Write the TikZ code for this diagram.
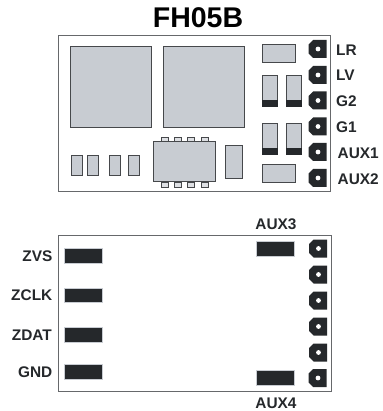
\documentclass[tikz,border=0pt]{standalone}
\usepackage{fontspec}
\setmainfont{Liberation Sans}
\definecolor{part}{HTML}{C8CCD2}
\definecolor{ink}{HTML}{25282B}
\tikzset{
  board/.style = {draw=ink!70!white, fill=white, line width=0.9pt},
  part/.style = {draw=ink!85!white, fill=part, line width=1pt},
  pin/.style = {draw=ink!85!white, fill=part!60!white, line width=0.9pt},
  black pad/.style = {fill=ink, draw=part, line width=0.5pt},
  pin label/.style = {font=\bfseries\fontsize{15.4}{17}\selectfont, text=ink, inner sep=0pt}
}

\begin{document}
\begin{tikzpicture}[x=1pt, y=-1pt]
	\def\padw{18}
	\def\padh{18}
	\def\cut{4.5}

	\useasboundingbox (0,0) rectangle (382,411);

	% Title
	\node[font=\bfseries\fontsize{28.5}{31}\selectfont, text=black, inner sep=0pt] (title) at (198,17.5) {FH05B};

	% Boards
	\draw[board] (58.5,35.8) rectangle (330.7,191.5);
	\draw[board] (58.7,235.3) rectangle (331,391);

	% Big squares
	\draw[part] (70,46.5) rectangle (151,127.5);
	\draw[part] (163.5,46.5) rectangle (244,127.5);

	% Top right parts
	\draw[part] (262,44.5) rectangle (295,62.5);
	\draw[part] (262,165) rectangle (295,183);
	\draw[part] (262,75.5) rectangle (277,106.5);
	\draw[part] (286.5,75.5) rectangle (301.5,106.5);
	\draw[part] (262,123.5) rectangle (277,154.5);
	\draw[part] (286.5,123.5) rectangle (301.5,154.5);
	\fill[ink] (261.5,100) rectangle (277.5,107);
	\fill[ink] (286,100) rectangle (302,107);
	\fill[ink] (261.5,148) rectangle (277.5,155);
	\fill[ink] (286,148) rectangle (302,155);

	% Small parts
	\draw[part] (71.5,155.5) rectangle (82.5,175.5);
	\draw[part] (87.5,155.5) rectangle (98.5,175.5);
	\draw[part] (109,155.5) rectangle (120,175.5);
	\draw[part] (128.5,155.5) rectangle (139.5,175.5);
	\draw[part] (225.5,145.5) rectangle (242,178.5);

	% Chip pins
	\draw[pin] (161,137) rectangle (168,142);
	\draw[pin] (174,137) rectangle (181,142);
	\draw[pin] (187.5,137) rectangle (194.5,142);
	\draw[pin] (201,137) rectangle (208,142);
	\draw[pin] (161,182) rectangle (168,187);
	\draw[pin] (174,182) rectangle (181,187);
	\draw[pin] (187.5,182) rectangle (194.5,187);
	\draw[pin] (201,182) rectangle (208,187);

	% Chip
	\draw[part] (153.5,142) rectangle (215.5,182);

	% Pads top
	\def\padat#1#2{
		\fill[ink] (#1,#2-\padh/2+\cut) -- (#1+\cut,#2-\padh/2) -- (#1+\padw,#2-\padh/2) -- (#1+\padw,#2+\padh/2) -- (#1+\cut,#2+\padh/2) -- (#1,#2+\padh/2-\cut) -- cycle;
		\fill[white] (#1+9.5,#2) circle (2.4);
	}
	\padat{308.5}{49}
	\padat{308.5}{75}
	\padat{308.5}{100.5}
	\padat{308.5}{126.5}
	\padat{308.5}{152}
	\padat{308.5}{178}

	% Pads bottom
	\padat{309}{248.5}
	\padat{309}{274.5}
	\padat{309}{300.5}
	\padat{309}{326.5}
	\padat{309}{352.5}
	\padat{308.5}{378}

	% Black pads
	\draw[black pad] (64.5,248.5) rectangle (102,263);
	\draw[black pad] (64.5,288) rectangle (102,302.5);
	\draw[black pad] (64.5,327) rectangle (102,342);
	\draw[black pad] (64.5,364) rectangle (102,379);
	\draw[black pad] (256.5,241.5) rectangle (294,256);
	\draw[black pad] (256.5,370.5) rectangle (294,385);

	% Pin names
	\node[pin label, anchor=west] (lr) at (336,50) {LR};
	\node[pin label, anchor=west] (lv) at (336,75) {LV};
	\node[pin label, anchor=west] (gtwo) at (336,101) {G2};
	\node[pin label, anchor=west] (gone) at (336,127) {G1};
	\node[pin label, anchor=west] (auxone) at (337.5,153) {AUX1};
	\node[pin label, anchor=west] (auxtwo) at (337.5,179) {AUX2};
	\node[pin label] (auxthree) at (276,224.5) {AUX3};
	\node[pin label] (auxfour) at (276,403) {AUX4};
	\node[pin label, anchor=east] (zvs) at (52.5,256.5) {ZVS};
	\node[pin label, anchor=east] (zclk) at (52.5,295.5) {ZCLK};
	\node[pin label, anchor=east] (zdat) at (52,335) {ZDAT};
	\node[pin label, anchor=east] (gnd) at (52.5,372) {GND};
\end{tikzpicture}
\end{document}
